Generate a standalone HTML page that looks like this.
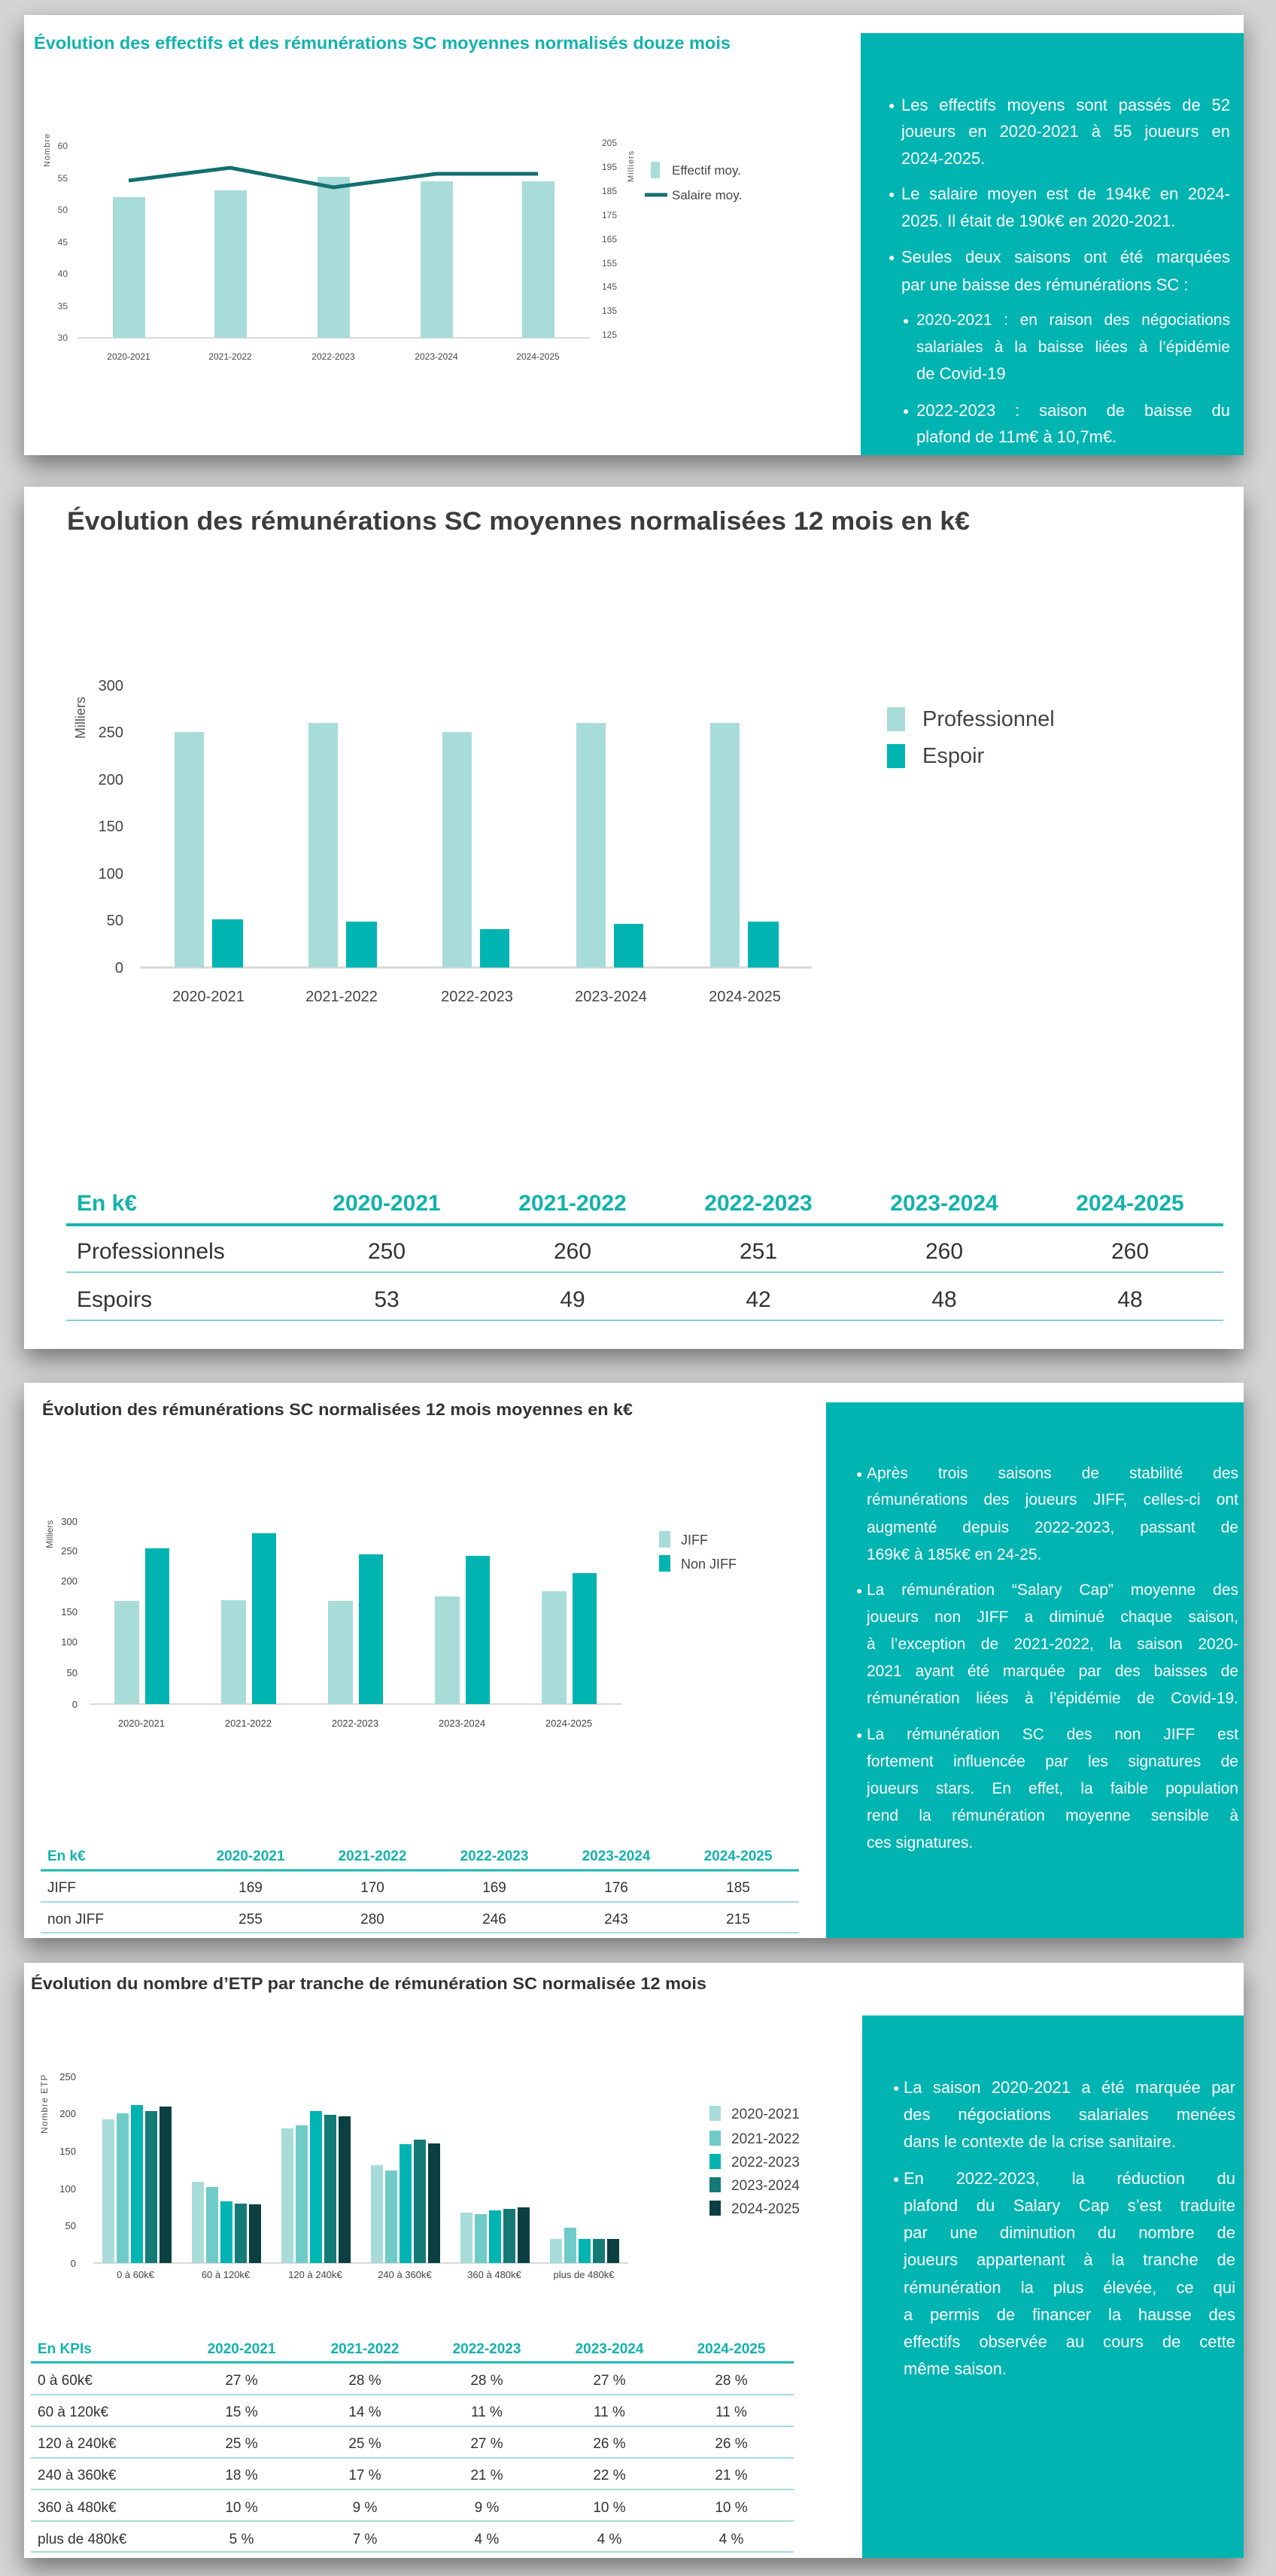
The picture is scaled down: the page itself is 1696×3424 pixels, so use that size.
<!DOCTYPE html>
<html><head><meta charset="utf-8"><style>
html,body{margin:0;padding:0}
body{width:1696px;height:3424px;background:#d4d4d4;position:relative;overflow:hidden;font-family:"Liberation Sans",sans-serif}
.p{position:absolute;background:#fff;box-shadow:0 14px 30px rgba(0,0,0,.45)}
.tb{position:absolute;background:#00b4b2}
.l{position:absolute;color:#fff;font-size:22px;line-height:36px;height:36px;white-space:nowrap;text-align:justify;text-align-last:justify;overflow:visible}
.l.e{text-align-last:left}
.s{font-size:21px}
.b{position:absolute;color:#fff;font-size:14px;line-height:36px}
svg{position:absolute;left:0;top:0}
</style></head><body>
<div class="p" style="left:32px;top:20px;width:1621px;height:585px"></div>
<div class="tb" style="left:1144px;top:44px;width:509px;height:561px"></div>
<div class="p" style="left:32px;top:647px;width:1621px;height:1146px"></div>
<div class="p" style="left:32px;top:1838px;width:1621px;height:738px"></div>
<div class="tb" style="left:1098px;top:1864px;width:555px;height:712px"></div>
<div class="p" style="left:32px;top:2609px;width:1621px;height:791px"></div>
<div class="tb" style="left:1146px;top:2679px;width:507px;height:721px"></div>

<svg width="1696" height="3424" xmlns="http://www.w3.org/2000/svg" font-family="Liberation Sans, sans-serif">
<!-- Panel 1 -->
<text x="45" y="65" font-size="23" font-weight="bold" fill="#13b2ad" textLength="926" lengthAdjust="spacingAndGlyphs">Évolution des effectifs et des rémunérations SC moyennes normalisés douze mois</text>
<g font-size="12" fill="#555" text-anchor="end">
<text x="90" y="198">60</text><text x="90" y="241">55</text><text x="90" y="283">50</text><text x="90" y="326">45</text><text x="90" y="368">40</text><text x="90" y="411">35</text><text x="90" y="453">30</text>
</g>
<g font-size="12" fill="#555">
<text x="800" y="194">205</text><text x="800" y="226">195</text><text x="800" y="258">185</text><text x="800" y="290">175</text><text x="800" y="322">165</text><text x="800" y="354">155</text><text x="800" y="385">145</text><text x="800" y="417">135</text><text x="800" y="449">125</text>
</g>
<text transform="translate(66,222) rotate(-90)" font-size="11" fill="#555" letter-spacing="1">Nombre</text>
<text transform="translate(842,242) rotate(-90)" font-size="11" fill="#555" letter-spacing="1">Milliers</text>
<line x1="103" y1="449" x2="784" y2="449" stroke="#d9d9d9" stroke-width="2"/>
<g fill="#a8dcd9">
<rect x="150" y="262" width="43" height="187"/><rect x="285" y="253" width="43" height="196"/><rect x="422" y="235" width="43" height="214"/><rect x="559" y="241" width="43" height="208"/><rect x="694" y="241" width="43" height="208"/>
</g>
<polyline points="171,240 306,223 443,249 580,231 715,231" fill="none" stroke="#14706e" stroke-width="5"/>
<g font-size="12" fill="#444" text-anchor="middle">
<text x="171" y="478">2020-2021</text><text x="306" y="478">2021-2022</text><text x="443" y="478">2022-2023</text><text x="580" y="478">2023-2024</text><text x="715" y="478">2024-2025</text>
</g>
<rect x="865" y="215" width="12" height="22" fill="#a8dcd9"/>
<text x="893" y="232" font-size="17" fill="#444">Effectif moy.</text>
<line x1="857" y1="259" x2="887" y2="259" stroke="#14706e" stroke-width="5"/>
<text x="893" y="265" font-size="17" fill="#444">Salaire moy.</text>

<!-- Panel 2 -->
<text x="89" y="704" font-size="34" font-weight="bold" fill="#3c3c3c" textLength="1200" lengthAdjust="spacingAndGlyphs">Évolution des rémunérations SC moyennes normalisées 12 mois en k€</text>
<g font-size="20" fill="#444" text-anchor="end">
<text x="164" y="918">300</text><text x="164" y="980">250</text><text x="164" y="1043">200</text><text x="164" y="1105">150</text><text x="164" y="1168">100</text><text x="164" y="1230">50</text><text x="164" y="1293">0</text>
</g>
<text transform="translate(113,982) rotate(-90)" font-size="18" fill="#555">Milliers</text>
<line x1="186" y1="1286" x2="1079" y2="1286" stroke="#d9d9d9" stroke-width="3"/>
<g fill="#a8dcd9">
<rect x="232" y="973" width="39" height="313"/><rect x="410" y="961" width="39" height="325"/><rect x="588" y="973" width="39" height="313"/><rect x="766" y="961" width="39" height="325"/><rect x="944" y="961" width="39" height="325"/>
</g>
<g fill="#00b4b2">
<rect x="282" y="1222" width="41" height="64"/><rect x="460" y="1225" width="41" height="61"/><rect x="638" y="1235" width="39" height="51"/><rect x="816" y="1228" width="39" height="58"/><rect x="994" y="1225" width="41" height="61"/>
</g>
<g font-size="20" fill="#444" text-anchor="middle">
<text x="277" y="1331">2020-2021</text><text x="454" y="1331">2021-2022</text><text x="634" y="1331">2022-2023</text><text x="812" y="1331">2023-2024</text><text x="990" y="1331">2024-2025</text>
</g>
<rect x="1179" y="940" width="24" height="32" fill="#a8dcd9"/>
<text x="1226" y="965" font-size="29" fill="#444">Professionnel</text>
<rect x="1179" y="989" width="24" height="32" fill="#00b4b2"/>
<text x="1226" y="1014" font-size="29" fill="#444">Espoir</text>
<g font-size="30" font-weight="bold" fill="#13b2ad" text-anchor="middle">
<text x="102" y="1609" text-anchor="start">En k€</text>
<text x="514" y="1609">2020-2021</text><text x="761" y="1609">2021-2022</text><text x="1008" y="1609">2022-2023</text><text x="1255" y="1609">2023-2024</text><text x="1502" y="1609">2024-2025</text>
</g>
<line x1="88" y1="1628" x2="1626" y2="1628" stroke="#1ab5b1" stroke-width="4"/>
<line x1="88" y1="1691" x2="1626" y2="1691" stroke="#7fd3d0" stroke-width="2"/>
<line x1="88" y1="1755" x2="1626" y2="1755" stroke="#7fd3d0" stroke-width="2"/>
<g font-size="30" fill="#333" text-anchor="middle">
<text x="102" y="1673" text-anchor="start">Professionnels</text>
<text x="514" y="1673">250</text><text x="761" y="1673">260</text><text x="1008" y="1673">251</text><text x="1255" y="1673">260</text><text x="1502" y="1673">260</text>
<text x="102" y="1737" text-anchor="start">Espoirs</text>
<text x="514" y="1737">53</text><text x="761" y="1737">49</text><text x="1008" y="1737">42</text><text x="1255" y="1737">48</text><text x="1502" y="1737">48</text>
</g>

<!-- Panel 3 -->
<text x="56" y="1881" font-size="22" font-weight="bold" fill="#333" textLength="785" lengthAdjust="spacingAndGlyphs">Évolution des rémunérations SC normalisées 12 mois moyennes en k€</text>
<g font-size="13" fill="#444" text-anchor="end">
<text x="103" y="2027">300</text><text x="103" y="2066">250</text><text x="103" y="2106">200</text><text x="103" y="2147">150</text><text x="103" y="2187">100</text><text x="103" y="2228">50</text><text x="103" y="2270">0</text>
</g>
<text transform="translate(70,2058) rotate(-90)" font-size="12" fill="#555">Milliers</text>
<line x1="119" y1="2265" x2="827" y2="2265" stroke="#d9d9d9" stroke-width="2"/>
<g fill="#a8dcd9">
<rect x="152" y="2128" width="33" height="137"/><rect x="294" y="2127" width="33" height="138"/><rect x="436" y="2128" width="33" height="137"/><rect x="578" y="2122" width="33" height="143"/><rect x="720" y="2115" width="33" height="150"/>
</g>
<g fill="#00b4b2">
<rect x="193" y="2058" width="32" height="207"/><rect x="335" y="2038" width="32" height="227"/><rect x="477" y="2066" width="32" height="199"/><rect x="619" y="2068" width="32" height="197"/><rect x="761" y="2091" width="32" height="174"/>
</g>
<g font-size="13" fill="#444" text-anchor="middle">
<text x="188" y="2295">2020-2021</text><text x="330" y="2295">2021-2022</text><text x="472" y="2295">2022-2023</text><text x="614" y="2295">2023-2024</text><text x="756" y="2295">2024-2025</text>
</g>
<rect x="876" y="2035" width="15" height="22" fill="#a8dcd9"/>
<text x="905" y="2053" font-size="18" fill="#444">JIFF</text>
<rect x="876" y="2067" width="15" height="22" fill="#00b4b2"/>
<text x="905" y="2085" font-size="18" fill="#444">Non JIFF</text>
<g font-size="19" font-weight="bold" fill="#13b2ad" text-anchor="middle">
<text x="63" y="2473" text-anchor="start">En k€</text>
<text x="333" y="2473">2020-2021</text><text x="495" y="2473">2021-2022</text><text x="657" y="2473">2022-2023</text><text x="819" y="2473">2023-2024</text><text x="981" y="2473">2024-2025</text>
</g>
<line x1="54" y1="2486" x2="1062" y2="2486" stroke="#1ab5b1" stroke-width="3"/>
<line x1="54" y1="2528" x2="1062" y2="2528" stroke="#7fd3d0" stroke-width="1.5"/>
<line x1="54" y1="2569" x2="1062" y2="2569" stroke="#7fd3d0" stroke-width="1.5"/>
<g font-size="19" fill="#333" text-anchor="middle">
<text x="63" y="2515" text-anchor="start">JIFF</text>
<text x="333" y="2515">169</text><text x="495" y="2515">170</text><text x="657" y="2515">169</text><text x="819" y="2515">176</text><text x="981" y="2515">185</text>
<text x="63" y="2557" text-anchor="start">non JIFF</text>
<text x="333" y="2557">255</text><text x="495" y="2557">280</text><text x="657" y="2557">246</text><text x="819" y="2557">243</text><text x="981" y="2557">215</text>
</g>

<!-- Panel 4 -->
<text x="41" y="2644" font-size="22" font-weight="bold" fill="#333" textLength="898" lengthAdjust="spacingAndGlyphs">Évolution du nombre d’ETP par tranche de rémunération SC normalisée 12 mois</text>
<g font-size="13" fill="#444" text-anchor="end">
<text x="101" y="2765">250</text><text x="101" y="2814">200</text><text x="101" y="2864">150</text><text x="101" y="2914">100</text><text x="101" y="2963">50</text><text x="101" y="3013">0</text>
</g>
<text transform="translate(63,2836) rotate(-90)" font-size="12" fill="#555" letter-spacing="1">Nombre ETP</text>
<line x1="124" y1="3008" x2="835" y2="3008" stroke="#d9d9d9" stroke-width="2"/>
<g>
<rect x="136" y="2817" width="16" height="191" fill="#a8dcd9"/><rect x="155" y="2809" width="16" height="199" fill="#6fcbc7"/><rect x="174" y="2798" width="16" height="210" fill="#00b4b2"/><rect x="193" y="2806" width="16" height="202" fill="#137a76"/><rect x="212" y="2800" width="16" height="208" fill="#0b3f42"/>
<rect x="255" y="2900" width="16" height="108" fill="#a8dcd9"/><rect x="274" y="2907" width="16" height="101" fill="#6fcbc7"/><rect x="293" y="2926" width="16" height="82" fill="#00b4b2"/><rect x="312" y="2929" width="16" height="79" fill="#137a76"/><rect x="331" y="2930" width="16" height="78" fill="#0b3f42"/>
<rect x="374" y="2829" width="16" height="179" fill="#a8dcd9"/><rect x="393" y="2825" width="16" height="183" fill="#6fcbc7"/><rect x="412" y="2806" width="16" height="202" fill="#00b4b2"/><rect x="431" y="2811" width="16" height="197" fill="#137a76"/><rect x="450" y="2813" width="16" height="195" fill="#0b3f42"/>
<rect x="493" y="2878" width="16" height="130" fill="#a8dcd9"/><rect x="512" y="2885" width="16" height="123" fill="#6fcbc7"/><rect x="531" y="2850" width="16" height="158" fill="#00b4b2"/><rect x="550" y="2844" width="16" height="164" fill="#137a76"/><rect x="569" y="2849" width="16" height="159" fill="#0b3f42"/>
<rect x="612" y="2941" width="16" height="67" fill="#a8dcd9"/><rect x="631" y="2943" width="16" height="65" fill="#6fcbc7"/><rect x="650" y="2938" width="16" height="70" fill="#00b4b2"/><rect x="669" y="2936" width="16" height="72" fill="#137a76"/><rect x="688" y="2934" width="16" height="74" fill="#0b3f42"/>
<rect x="731" y="2976" width="16" height="32" fill="#a8dcd9"/><rect x="750" y="2961" width="16" height="47" fill="#6fcbc7"/><rect x="769" y="2976" width="16" height="32" fill="#00b4b2"/><rect x="788" y="2976" width="16" height="32" fill="#137a76"/><rect x="807" y="2976" width="16" height="32" fill="#0b3f42"/>
</g>
<g font-size="13" fill="#444" text-anchor="middle">
<text x="180" y="3028">0 à 60k€</text><text x="300" y="3028">60 à 120k€</text><text x="419" y="3028">120 à 240k€</text><text x="538" y="3028">240 à 360k€</text><text x="657" y="3028">360 à 480k€</text><text x="776" y="3028">plus de 480k€</text>
</g>
<g font-size="19" fill="#444">
<rect x="943" y="2799" width="15" height="20" fill="#a8dcd9"/><text x="972" y="2816">2020-2021</text>
<rect x="943" y="2832" width="15" height="20" fill="#6fcbc7"/><text x="972" y="2849">2021-2022</text>
<rect x="943" y="2863" width="15" height="20" fill="#00b4b2"/><text x="972" y="2880">2022-2023</text>
<rect x="943" y="2894" width="15" height="20" fill="#137a76"/><text x="972" y="2911">2023-2024</text>
<rect x="943" y="2925" width="15" height="20" fill="#0b3f42"/><text x="972" y="2942">2024-2025</text>
</g>
<g font-size="19" font-weight="bold" fill="#13b2ad" text-anchor="middle">
<text x="50" y="3128" text-anchor="start">En KPIs</text>
<text x="321" y="3128">2020-2021</text><text x="485" y="3128">2021-2022</text><text x="647" y="3128">2022-2023</text><text x="810" y="3128">2023-2024</text><text x="972" y="3128">2024-2025</text>
</g>
<line x1="41" y1="3140" x2="1055" y2="3140" stroke="#1ab5b1" stroke-width="3"/>
<g stroke="#7fd3d0" stroke-width="1.5">
<line x1="41" y1="3183" x2="1055" y2="3183"/><line x1="41" y1="3225" x2="1055" y2="3225"/><line x1="41" y1="3267" x2="1055" y2="3267"/><line x1="41" y1="3309" x2="1055" y2="3309"/><line x1="41" y1="3351" x2="1055" y2="3351"/><line x1="41" y1="3392" x2="1055" y2="3392"/>
</g>
<g font-size="19" fill="#333" text-anchor="middle">
<text x="50" y="3170" text-anchor="start">0 à 60k€</text><text x="321" y="3170">27 %</text><text x="485" y="3170">28 %</text><text x="647" y="3170">28 %</text><text x="810" y="3170">27 %</text><text x="972" y="3170">28 %</text>
<text x="50" y="3212" text-anchor="start">60 à 120k€</text><text x="321" y="3212">15 %</text><text x="485" y="3212">14 %</text><text x="647" y="3212">11 %</text><text x="810" y="3212">11 %</text><text x="972" y="3212">11 %</text>
<text x="50" y="3254" text-anchor="start">120 à 240k€</text><text x="321" y="3254">25 %</text><text x="485" y="3254">25 %</text><text x="647" y="3254">27 %</text><text x="810" y="3254">26 %</text><text x="972" y="3254">26 %</text>
<text x="50" y="3296" text-anchor="start">240 à 360k€</text><text x="321" y="3296">18 %</text><text x="485" y="3296">17 %</text><text x="647" y="3296">21 %</text><text x="810" y="3296">22 %</text><text x="972" y="3296">21 %</text>
<text x="50" y="3339" text-anchor="start">360 à 480k€</text><text x="321" y="3339">10 %</text><text x="485" y="3339">9 %</text><text x="647" y="3339">9 %</text><text x="810" y="3339">10 %</text><text x="972" y="3339">10 %</text>
<text x="50" y="3381" text-anchor="start">plus de 480k€</text><text x="321" y="3381">5 %</text><text x="485" y="3381">7 %</text><text x="647" y="3381">4 %</text><text x="810" y="3381">4 %</text><text x="972" y="3381">4 %</text>
</g>
</svg>

<!-- Text box 1 -->
<div class="b" style="left:1181px;top:122px">●</div>
<div class="l" style="left:1198px;top:122px;width:437px">Les effectifs moyens sont passés de 52</div>
<div class="l" style="left:1198px;top:157px;width:437px">joueurs en 2020-2021 à 55 joueurs en</div>
<div class="l e" style="left:1198px;top:193px;width:437px">2024-2025.</div>
<div class="b" style="left:1181px;top:240px">●</div>
<div class="l" style="left:1198px;top:240px;width:437px">Le salaire moyen est de 194k€ en 2024-</div>
<div class="l e" style="left:1198px;top:276px;width:437px">2025. Il était de 190k€ en 2020-2021.</div>
<div class="b" style="left:1181px;top:324px">●</div>
<div class="l" style="left:1198px;top:324px;width:437px">Seules deux saisons ont été marquées</div>
<div class="l e" style="left:1198px;top:361px;width:437px">par une baisse des rémunérations SC :</div>
<div class="b" style="left:1200px;top:408px">●</div>
<div class="l s" style="left:1218px;top:408px;width:417px">2020-2021 : en raison des négociations</div>
<div class="l s" style="left:1218px;top:444px;width:417px">salariales à la baisse liées à l’épidémie</div>
<div class="l e" style="left:1218px;top:479px;width:417px">de Covid-19</div>
<div class="b" style="left:1200px;top:528px">●</div>
<div class="l" style="left:1218px;top:528px;width:417px">2022-2023 : saison de baisse du</div>
<div class="l e" style="left:1218px;top:563px;width:417px">plafond de 11m€ à 10,7m€.</div>

<!-- Text box 3 -->
<div class="b" style="left:1138px;top:1941px">●</div>
<div class="l s" style="left:1152px;top:1941px;width:494px">Après trois saisons de stabilité des</div>
<div class="l s" style="left:1152px;top:1976px;width:494px">rémunérations des joueurs JIFF, celles-ci ont</div>
<div class="l s" style="left:1152px;top:2013px;width:494px">augmenté depuis 2022-2023, passant de</div>
<div class="l s e" style="left:1152px;top:2049px;width:494px">169k€ à 185k€ en 24-25.</div>
<div class="b" style="left:1138px;top:2096px">●</div>
<div class="l s" style="left:1152px;top:2096px;width:494px">La rémunération “Salary Cap” moyenne des</div>
<div class="l s" style="left:1152px;top:2132px;width:494px">joueurs non JIFF a diminué chaque saison,</div>
<div class="l s" style="left:1152px;top:2168px;width:494px">à l’exception de 2021-2022, la saison 2020-</div>
<div class="l s" style="left:1152px;top:2204px;width:494px">2021 ayant été marquée par des baisses de</div>
<div class="l s" style="left:1152px;top:2240px;width:494px">rémunération liées à l’épidémie de Covid-19.</div>
<div class="b" style="left:1138px;top:2288px">●</div>
<div class="l s" style="left:1152px;top:2288px;width:494px">La rémunération SC des non JIFF est</div>
<div class="l s" style="left:1152px;top:2324px;width:494px">fortement influencée par les signatures de</div>
<div class="l s" style="left:1152px;top:2360px;width:494px">joueurs stars. En effet, la faible population</div>
<div class="l s" style="left:1152px;top:2396px;width:494px">rend la rémunération moyenne sensible à</div>
<div class="l s e" style="left:1152px;top:2432px;width:494px">ces signatures.</div>

<!-- Text box 4 -->
<div class="b" style="left:1187px;top:2757px">●</div>
<div class="l" style="left:1201px;top:2757px;width:441px">La saison 2020-2021 a été marquée par</div>
<div class="l" style="left:1201px;top:2793px;width:441px">des négociations salariales menées</div>
<div class="l e" style="left:1201px;top:2829px;width:441px">dans le contexte de la crise sanitaire.</div>
<div class="b" style="left:1187px;top:2878px">●</div>
<div class="l" style="left:1201px;top:2878px;width:441px">En 2022-2023, la réduction du</div>
<div class="l" style="left:1201px;top:2914px;width:441px">plafond du Salary Cap s’est traduite</div>
<div class="l" style="left:1201px;top:2950px;width:441px">par une diminution du nombre de</div>
<div class="l" style="left:1201px;top:2986px;width:441px">joueurs appartenant à la tranche de</div>
<div class="l" style="left:1201px;top:3023px;width:441px">rémunération la plus élevée, ce qui</div>
<div class="l" style="left:1201px;top:3059px;width:441px">a permis de financer la hausse des</div>
<div class="l" style="left:1201px;top:3095px;width:441px">effectifs observée au cours de cette</div>
<div class="l e" style="left:1201px;top:3131px;width:441px">même saison.</div>
</body></html>
